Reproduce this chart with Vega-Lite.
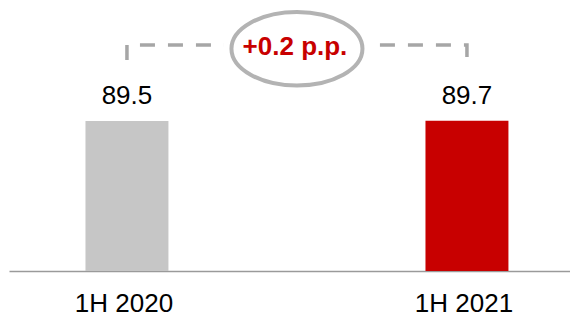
{
  "$schema": "https://vega.github.io/schema/vega-lite/v6.json",
  "autosize": {"type": "none"},
  "width": 561,
  "height": 271,
  "padding": {"left": 9, "top": 0, "right": 0, "bottom": 43},
  "background": "white",
  "config": {"view": {"stroke": null}, "font": "Liberation Sans"},
  "encoding": {
    "x": {
      "field": "period",
      "type": "nominal",
      "sort": null,
      "scale": {"type": "band", "domain": ["1H 2020", "change", "1H 2021"], "paddingInner": 0.512, "paddingOuter": 0.406, "align": 0.554},
      "axis": {
        "title": null,
        "labelExpr": "datum.value == 'change' ? '' : datum.value",
        "labelAngle": 0,
        "labelFont": "Liberation Sans",
        "labelFontSize": 26,
        "labelColor": "#000000",
        "labelBaseline": "alphabetic",
        "labelPadding": 40.7,
        "labelOffset": -3,
        "ticks": false,
        "tickSize": 0,
        "domainColor": "#9a9a9a",
        "domainWidth": 1.5,
        "grid": false
      }
    },
    "y": {
      "field": "value",
      "type": "quantitative",
      "scale": {"domain": [0, 161.7], "nice": false, "zero": true},
      "axis": null
    }
  },
  "layer": [
    {
      "data": {"values": [
        {"period": "1H 2020", "value": 89.5, "label": "89.5"},
        {"period": "1H 2021", "value": 89.7, "label": "89.7"}
      ]},
      "layer": [
        {
          "mark": {"type": "bar"},
          "encoding": {
            "color": {"field": "period", "type": "nominal", "scale": {"domain": ["1H 2020", "1H 2021"], "range": ["#c6c6c6", "#c80000"]}, "legend": null}
          }
        },
        {
          "mark": {"type": "text", "baseline": "alphabetic", "align": "center", "dy": -17, "fontSize": 26, "font": "Liberation Sans", "color": "#000000"},
          "encoding": {"text": {"field": "label"}}
        }
      ]
    },
    {
      "data": {"values": [
        {"side": "left", "period": "1H 2020", "value": 125.9, "o": 1},
        {"side": "left", "period": "1H 2020", "value": 134.85, "o": 2},
        {"side": "left", "period": "change", "value": 134.85, "o": 3},
        {"side": "right", "period": "1H 2021", "value": 127.7, "o": 1},
        {"side": "right", "period": "1H 2021", "value": 134.85, "o": 2},
        {"side": "right", "period": "change", "value": 134.85, "o": 3}
      ]},
      "mark": {"type": "line", "color": "#a6a6a6", "strokeWidth": 3.5, "strokeDash": [15, 13], "strokeCap": "butt", "strokeJoin": "miter"},
      "encoding": {
        "detail": {"field": "side"},
        "order": {"field": "o", "type": "quantitative"}
      }
    },
    {
      "data": {"values": [{"period": "change", "value": 132.6, "text": "+0.2 p.p."}]},
      "layer": [
        {
          "mark": {"type": "point", "shape": "M-1,0 A1,0.561 0 1,0 1,0 A1,0.561 0 1,0 -1,0 Z", "size": 17161, "filled": true, "fill": "white", "stroke": "white", "strokeWidth": 16, "opacity": 1, "dx": -4.5}
        },
        {
          "mark": {"type": "point", "shape": "M-1,0 A1,0.561 0 1,0 1,0 A1,0.561 0 1,0 -1,0 Z", "size": 17161, "filled": false, "fill": "white", "fillOpacity": 1, "stroke": "#b3b3b3", "strokeWidth": 4, "opacity": 1, "dx": -4.5}
        }
      ]
    },
    {
      "data": {"values": [{"period": "change", "value": 128.9, "text": "+0.2 p.p."}]},
      "mark": {"type": "text", "baseline": "alphabetic", "align": "center", "dx": -2, "fontSize": 26, "fontWeight": "bold", "font": "Liberation Sans", "color": "#c80000"},
      "encoding": {"text": {"field": "text"}}
    }
  ]
}
